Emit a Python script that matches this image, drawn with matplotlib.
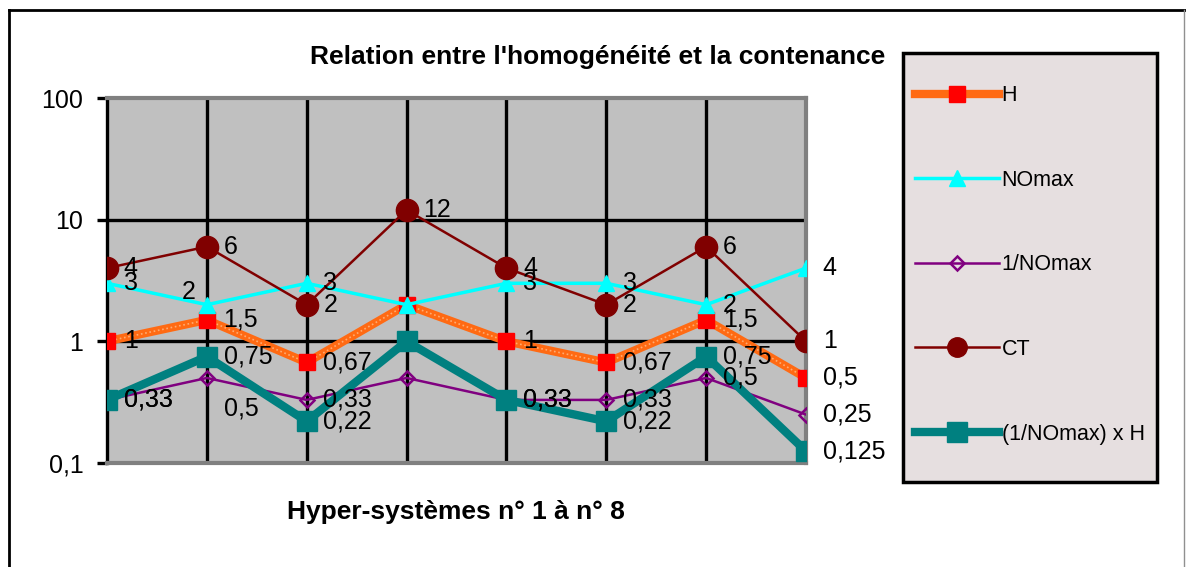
import numpy as np
import matplotlib
matplotlib.use("Agg")
import matplotlib.pyplot as plt
import matplotlib.patches as patches
from matplotlib.lines import Line2D
from matplotlib.ticker import FuncFormatter, NullLocator

plt.rcParams['font.family'] = ['Liberation Sans', 'DejaVu Sans']

# Hyper-systèmes n° 1 à n° 8
systemes = np.arange(8)

H = [1, 1.5, 0.67, 2, 1, 0.67, 1.5, 0.5]
NOmax = [3, 2, 3, 2, 3, 3, 2, 4]
inv_NOmax = [0.33, 0.5, 0.33, 0.5, 0.33, 0.33, 0.5, 0.25]
CT = [4, 6, 2, 12, 4, 2, 6, 1]
inv_NOmax_H = [0.33, 0.75, 0.22, 1, 0.33, 0.22, 0.75, 0.125]

noms = ["H", "NOmax", "1/NOmax", "CT", "(1/NOmax) x H"]


def fr(v):
    # virgule décimale
    return f"{v:g}".replace(".", ",")


fig = plt.figure(figsize=(11.86, 5.67), dpi=100)
ax = fig.add_axes([107 / 1186, 1 - 463 / 567, (806 - 107) / 1186, (463 - 98) / 567])
ax.set_facecolor("#c0c0c0")
ax.set_yscale("log")
ax.set_ylim(0.1, 100)
ax.set_xlim(0, 7)

# quadrillage noir
for x in systemes[1:-1]:
    ax.axvline(x, color="black", lw=2.4, zorder=1)
for y in [1, 10]:
    ax.axhline(y, color="black", lw=2.4, zorder=1)

ax.set_yticks([0.1, 1, 10, 100])
ax.yaxis.set_major_formatter(FuncFormatter(lambda v, p: fr(v)))
ax.yaxis.set_minor_locator(NullLocator())
ax.set_xticks([])
ax.tick_params(axis="y", length=7, width=2.4, pad=10, labelsize=18)
for s in ["top", "right", "bottom"]:
    ax.spines[s].set_color("#808080")
    ax.spines[s].set_linewidth(3)
ax.spines["left"].set_color("black")
ax.spines["left"].set_linewidth(2.4)

# séries
ax.plot(systemes, H, color="#ff6a13", lw=6, zorder=3, solid_capstyle="butt")
ax.plot(systemes, H, color="#ffab70", lw=1.2, ls=(0, (1, 1.6)), zorder=3)
ax.plot(systemes, H, ls="none", marker="s", ms=11, mfc="#ff0000", mec="#ff0000", zorder=4)
ax.plot(systemes, NOmax, color="#00ffff", lw=2.5, marker="^", ms=12, zorder=5)
ax.plot(systemes, inv_NOmax, color="#800080", lw=1.8, marker="D", ms=7,
        mfc="none", mec="#800080", mew=1.8, zorder=6)
ax.plot(systemes, CT, color="#800000", lw=1.8, marker="o", ms=16, zorder=7)
ax.plot(systemes, inv_NOmax_H, color="#008080", lw=6, marker="s", ms=15, zorder=8)

# étiquettes de valeurs
series = [H, NOmax, inv_NOmax, CT, inv_NOmax_H]
decalages = {(1, 1): (-8, 9, "right"), (2, 1): (12, -22, "left")}
for k, vals in enumerate(series):
    for i, v in enumerate(vals):
        if i == 3 and k != 3:
            continue
        dx, dy, ha = decalages.get((k, i), (12, 0, "left"))
        ax.annotate(fr(v), (i, v), xytext=(dx, dy), textcoords="offset points",
                    ha=ha, va="center", fontsize=18, zorder=10, annotation_clip=False)

fig.text(598 / 1186, 1 - 57 / 567, "Relation entre l'homogénéité et la contenance",
         ha="center", va="center", fontsize=19, fontweight="bold")
fig.text(456 / 1186, 1 - 512 / 567, "Hyper-systèmes n° 1 à n° 8",
         ha="center", va="center", fontsize=19, fontweight="bold")

# légende
fig.patches.append(patches.Rectangle((903 / 1186, 1 - 482 / 567), 254 / 1186, 429 / 567,
                                     transform=fig.transFigure, facecolor="#e6dfe0",
                                     edgecolor="black", lw=2.5, zorder=0))
poignees = [
    Line2D([], [], color="#ff6a13", lw=6, marker="s", ms=11, mfc="#ff0000", mec="#ff0000"),
    Line2D([], [], color="#00ffff", lw=2.5, marker="^", ms=12),
    Line2D([], [], color="#800080", lw=1.8, marker="D", ms=7, mfc="none", mew=1.8),
    Line2D([], [], color="#800000", lw=1.8, marker="o", ms=14),
    Line2D([], [], color="#008080", lw=6, marker="s", ms=14),
]
fig.legend(poignees, noms, loc="center", bbox_to_anchor=(1030 / 1186, 1 - 265 / 567),
           frameon=False, fontsize=15.5, handlelength=3.9, handletextpad=0.1,
           labelspacing=2.95, numpoints=1)

# cadre extérieur
fig.add_artist(Line2D([9 / 1186, 9 / 1186], [0, 1 - 10 / 567], color="black", lw=2))
fig.add_artist(Line2D([9 / 1186, 1185 / 1186], [1 - 10 / 567, 1 - 10 / 567], color="black", lw=2))
fig.add_artist(Line2D([1184 / 1186, 1184 / 1186], [0, 1 - 10 / 567], color="#909090", lw=1))

fig.savefig("out.png", dpi=100)
